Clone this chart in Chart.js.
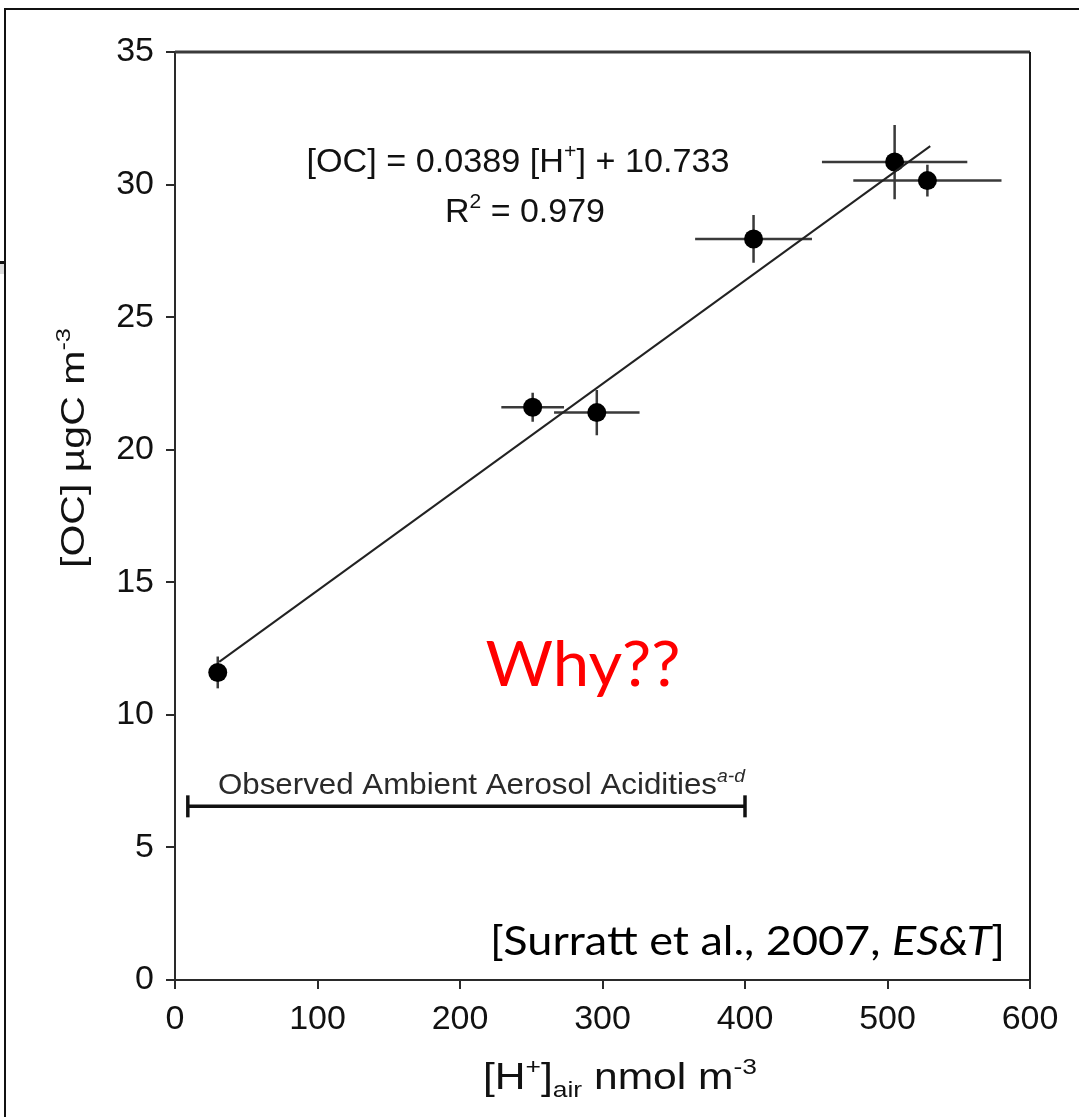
<!DOCTYPE html>
<html>
<head>
<meta charset="utf-8">
<script src="https://cdn.jsdelivr.net/npm/chart.js@4.4.0/dist/chart.umd.min.js"></script>
<style>
  html, body { margin: 0; padding: 0; background: #fff; }
  #wrap { position: relative; width: 1079px; height: 1117px; }
  canvas { display: block; }
</style>
</head>
<body>
<div id="wrap"><canvas id="chart" width="1079" height="1117"></canvas></div>
<script>
/* ---------------------------------
   DATA
--------------------------------- */
const hPlus = [30, 251, 296, 406, 505, 528];          // [H+]air nmol m-3
const ocConc = [11.6, 21.6, 21.4, 27.95, 30.85, 30.15]; // [OC] ugC m-3
const hPlusErr = [0, 22, 30, 41, 51, 52];
const ocErr = [0.6, 0.55, 0.85, 0.9, 1.4, 0.6];

const fitX = [31, 530];
const fitY = [12.0, 31.45];

const acidityX = [9, 400];
const acidityY = [6.55, 6.55];

const xTicks = [0, 100, 200, 300, 400, 500, 600];
const yTicks = [0, 5, 10, 15, 20, 25, 30, 35];

const TEXT_FONT = "Liberation Sans";
const INK = "#111";

/* ---------------------------------
   HELPERS
--------------------------------- */
// draws a run of pieces {t, sup, sub, italic}, squeezed/stretched to width w
function drawRich(ctx, parts, x, y, size, family, align, w) {
  const fontOf = (p) => {
    const s = p.sup || p.sub ? size * 0.62 : size;
    return `${p.italic ? "italic " : ""}${s}px "${family}"`;
  };
  const widths = parts.map((p) => {
    ctx.font = fontOf(p);
    return ctx.measureText(p.t).width;
  });
  const total = widths.reduce((a, b) => a + b, 0);
  const k = w ? w / total : 1;
  ctx.save();
  ctx.translate(x, y);
  ctx.scale(k, 1);
  let cx = align === "center" ? -total / 2 : 0;
  ctx.textAlign = "left";
  ctx.textBaseline = "alphabetic";
  parts.forEach((p, i) => {
    ctx.font = fontOf(p);
    let dy = 0;
    if (p.sup) dy = -size * 0.42;
    if (p.sub) dy = size * 0.22;
    ctx.fillText(p.t, cx, dy);
    cx += widths[i];
  });
  ctx.restore();
}

const extras = {
  id: "extras",
  beforeDatasetsDraw(chart) {
    const { ctx, scales: { x, y } } = chart;
    ctx.save();
    ctx.strokeStyle = "#3a3a3a";
    ctx.lineWidth = 2.5;
    hPlus.forEach((hx, i) => {
      const px = x.getPixelForValue(hx);
      const py = y.getPixelForValue(ocConc[i]);
      ctx.beginPath();
      if (hPlusErr[i] > 0) {
        ctx.moveTo(x.getPixelForValue(hx - hPlusErr[i]), py);
        ctx.lineTo(x.getPixelForValue(hx + hPlusErr[i]), py);
      }
      ctx.moveTo(px, y.getPixelForValue(ocConc[i] + ocErr[i]));
      ctx.lineTo(px, y.getPixelForValue(ocConc[i] - ocErr[i]));
      ctx.stroke();
    });
    ctx.restore();
  },
  afterDraw(chart) {
    const { ctx, chartArea: a } = chart;
    ctx.save();
    // plot frame top + right
    ctx.strokeStyle = "#3a3a3a";
    ctx.lineWidth = 3;
    ctx.beginPath();
    ctx.moveTo(a.left, a.top);
    ctx.lineTo(a.right, a.top);
    ctx.stroke();
    ctx.strokeStyle = "#1a1a1a";
    ctx.lineWidth = 2;
    ctx.beginPath();
    ctx.moveTo(a.right, a.top);
    ctx.lineTo(a.right, a.bottom);
    ctx.stroke();

    // slide frame
    ctx.strokeStyle = "#111";
    ctx.lineWidth = 2;
    ctx.beginPath();
    ctx.moveTo(5, 1117);
    ctx.lineTo(5, 9);
    ctx.lineTo(1079, 9);
    ctx.stroke();
    ctx.fillStyle = "#111";
    ctx.fillRect(0, 261, 6, 3);
    ctx.fillStyle = "#ddd";
    ctx.fillRect(0, 264, 4, 10);

    ctx.fillStyle = INK;
    // regression text
    drawRich(ctx, [{ t: "[OC] = 0.0389 [H" }, { t: "+", sup: true }, { t: "] + 10.733" }], 518, 172, 33, TEXT_FONT, "center", 423);
    drawRich(ctx, [{ t: "R" }, { t: "2", sup: true }, { t: " = 0.979" }], 525, 222, 33, TEXT_FONT, "center", 160);

    // acidity range label
    ctx.fillStyle = "#2a2a2a";
    drawRich(ctx, [{ t: "Observed Ambient Aerosol Acidities" }, { t: "a-d", sup: true, italic: true }], 218, 794, 29, TEXT_FONT, "left", 527);

    // axis titles
    ctx.fillStyle = INK;
    drawRich(ctx, [{ t: "[H" }, { t: "+", sup: true }, { t: "]" }, { t: "air", sub: true }, { t: " nmol m" }, { t: "-3", sup: true }], 620, 1089, 36, TEXT_FONT, "center", 274);
    ctx.save();
    ctx.translate(84, 448);
    ctx.rotate(-Math.PI / 2);
    drawRich(ctx, [{ t: "[OC] µgC m" }, { t: "-3", sup: true }], 0, 0, 34, TEXT_FONT, "center", 240);
    ctx.restore();

    // slide annotations
    ctx.fillStyle = "#ff0000";
    drawRich(ctx, [{ t: "Why??" }], 583, 686, 62, "Lato", "center", 195);

    ctx.fillStyle = "#000";
    drawRich(ctx, [{ t: "[Surratt et al., 2007, " }, { t: "ES&T", italic: true }, { t: "]" }], 490, 955, 40, "Lato", "left", 515);
    ctx.restore();
  }
};

/* ---------------------------------
   CHART
--------------------------------- */
const points = hPlus.map((h, i) => ({ x: h, y: ocConc[i] }));
const fitLine = fitX.map((v, i) => ({ x: v, y: fitY[i] }));
const acidity = acidityX.map((v, i) => ({ x: v, y: acidityY[i] }));

new Chart(document.getElementById("chart"), {
  type: "scatter",
  data: {
    datasets: [
      {
        label: "fit",
        data: fitLine,
        showLine: true,
        borderColor: "#222",
        borderWidth: 2,
        pointRadius: 0
      },
      {
        label: "acidity",
        data: acidity,
        showLine: true,
        borderColor: "#111",
        borderWidth: 3.5,
        pointStyle: "line",
        rotation: 90,
        pointRadius: 11,
        pointBorderWidth: 3.5,
        pointBorderColor: "#111"
      },
      {
        label: "OC",
        data: points,
        backgroundColor: "#000",
        borderColor: "#000",
        pointRadius: 9.5,
        pointBorderWidth: 0
      }
    ]
  },
  options: {
    responsive: false,
    animation: false,
    devicePixelRatio: 1,
    layout: { padding: { top: 52, right: 49, left: 0, bottom: 0 } },
    plugins: { legend: { display: false }, tooltip: { enabled: false } },
    scales: {
      x: {
        type: "linear",
        min: 0,
        max: 600,
        afterFit: (s) => { s.height = 137; },
        afterBuildTicks: (s) => { s.ticks = xTicks.map((v) => ({ value: v })); },
        border: { display: true, color: "#2a2a2a", width: 2 },
        grid: { drawOnChartArea: false, drawTicks: true, tickLength: 9, color: "#2a2a2a", lineWidth: 2 },
        ticks: { color: INK, font: { family: TEXT_FONT, size: 34 }, padding: 10, maxRotation: 0 }
      },
      y: {
        type: "linear",
        min: 0,
        max: 35,
        afterFit: (s) => { s.width = 175; },
        afterBuildTicks: (s) => { s.ticks = yTicks.map((v) => ({ value: v })); },
        border: { display: true, color: "#2a2a2a", width: 2 },
        grid: { drawOnChartArea: false, drawTicks: true, tickLength: 9, color: "#2a2a2a", lineWidth: 2 },
        ticks: { color: INK, font: { family: TEXT_FONT, size: 34 }, padding: 12 }
      }
    }
  },
  plugins: [extras]
});
</script>
</body>
</html>
